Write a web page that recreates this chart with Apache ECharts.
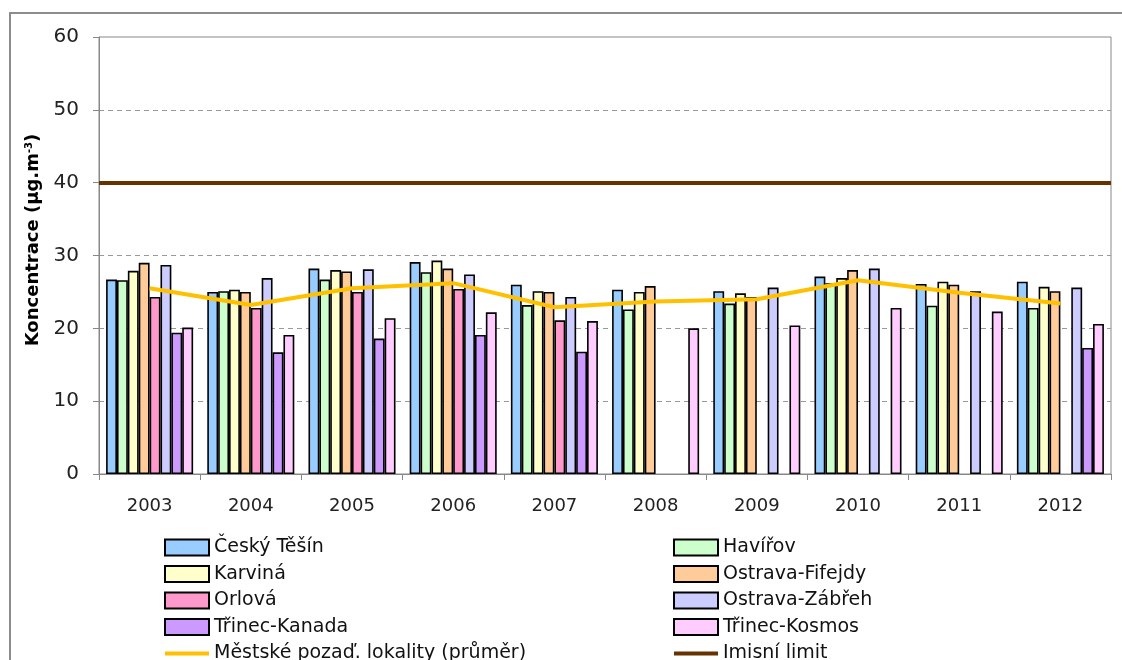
<!DOCTYPE html>
<html>
<head>
<meta charset="utf-8">
<script src="https://cdn.jsdelivr.net/npm/echarts@6/dist/echarts.min.js"></script>
<style>
  html, body { margin: 0; padding: 0; background: #fff; }
  #graf { width: 1122px; height: 660px; }
</style>
</head>
<body>
<div id="graf"></div>
<script>
// roky
var roky = ["2003", "2004", "2005", "2006", "2007", "2008", "2009", "2010", "2011", "2012"];
// hodnoty po lokalitach (null = bez mereni)
var ceskyTesin = [26.7, 25.0, 28.2, 29.1, 26.0, 25.3, 25.1, 27.1, 26.1, 26.4];
var havirov = [26.6, 25.1, 26.7, 27.7, 23.2, 22.6, 23.4, 26.2, 23.1, 22.8];
var karvina = [27.9, 25.3, 28.0, 29.3, 25.1, 25.0, 24.8, 26.9, 26.4, 25.7];
var fifejdy = [29.0, 25.0, 27.8, 28.2, 25.0, 25.8, 24.3, 28.0, 26.0, 25.1];
var orlova = [24.3, 22.8, 25.0, 25.4, 21.1, null, null, null, null, null];
var zabreh = [28.7, 26.9, 28.1, 27.4, 24.3, null, 25.6, 28.2, 25.1, 25.6];
var kanada = [19.4, 16.7, 18.6, 19.1, 16.8, null, null, null, null, 17.3];
var kosmos = [20.1, 19.1, 21.4, 22.2, 21.0, 20.0, 20.4, 22.8, 22.3, 20.6];
// prumer mestskych pozadovych lokalit
var prumer = [25.5, 23.2, 25.5, 26.2, 22.9, 23.7, 24.0, 26.6, 24.9, 23.4];
var limit = 40;
var yTicks = [0, 10, 20, 30, 40, 50, 60];

var font = "'DejaVu Sans', sans-serif";
var LEG_TEXT = { fontFamily: font, fontSize: 19, color: "#111" };

function sloupec(nazev, data, barva) {
  return {
    name: nazev,
    type: "bar",
    data: data,
    barGap: "0%",
    barCategoryGap: "14%",
    itemStyle: { color: barva, borderColor: "#000", borderWidth: 1.6 }
  };
}

// cara v legende bez kolecka
function carova(nazev, barva) {
  return { name: nazev, icon: "inherit", itemStyle: { opacity: 0 }, lineStyle: { color: barva, width: 4, opacity: 1 } };
}

function legenda(x, polozky) {
  return {
    orient: "vertical",
    left: x,
    top: 538,
    height: 160,
    padding: 0,
    icon: "rect",
    itemWidth: 44,
    itemHeight: 16,
    itemGap: 7.5,
    textStyle: LEG_TEXT,
    data: polozky
  };
}

var option = {
  backgroundColor: "#fff",
  animation: false,
  textStyle: { fontFamily: font },
  grid: { left: 99, right: 11, top: 37, bottom: 186, show: true, borderColor: "#888", borderWidth: 1 },
  graphic: [
    {
      type: "rect",
      shape: { x: 10, y: 13, width: 1140, height: 700 },
      style: { fill: "none", stroke: "#8c8c8c", lineWidth: 2 },
      silent: true
    },
    {
      type: "text",
      x: 33,
      y: 240,
      rotation: Math.PI / 2,
      style: {
        text: "{a|Koncentrace (µg.m}{s|-3}{a|)}",
        align: "center",
        verticalAlign: "middle",
        rich: {
          a: { fontFamily: font, fontSize: 18, fontWeight: "bold", fill: "#000" },
          s: { fontFamily: font, fontSize: 10, fontWeight: "bold", fill: "#000", verticalAlign: "top", padding: [0, 0, 8, 0] }
        }
      }
    }
  ],
  legend: [
    legenda(163, ["Český Těšín", "Karviná", "Orlová", "Třinec-Kanada", carova("Městské pozaď. lokality (průměr)", "#FFC000")]),
    legenda(672, ["Havířov", "Ostrava-Fifejdy", "Ostrava-Zábřeh", "Třinec-Kosmos", carova("Imisní limit", "#663300")])
  ],
  xAxis: {
    type: "category",
    data: roky,
    axisLine: { lineStyle: { color: "#888", width: 1 } },
    axisTick: { show: true, alignWithLabel: false, length: 6, lineStyle: { color: "#888" } },
    axisLabel: { fontFamily: font, fontSize: 18, color: "#222", margin: 23 }
  },
  yAxis: {
    type: "value",
    min: yTicks[0],
    max: yTicks[yTicks.length - 1],
    interval: 10,
    axisLine: { show: true, lineStyle: { color: "#888", width: 1 } },
    axisTick: { show: true, length: 6, lineStyle: { color: "#888" } },
    axisLabel: { fontFamily: font, fontSize: 20, color: "#222", margin: 20 },
    splitLine: { show: true, showMinLine: false, showMaxLine: false, lineStyle: { color: "#999", type: [5, 4], width: 1 } }
  },
  series: [
    sloupec("Český Těšín", ceskyTesin, "#99CCFF"),
    sloupec("Havířov", havirov, "#CCFFCC"),
    sloupec("Karviná", karvina, "#FFFFCC"),
    sloupec("Ostrava-Fifejdy", fifejdy, "#FFCC99"),
    sloupec("Orlová", orlova, "#FF99CC"),
    sloupec("Ostrava-Zábřeh", zabreh, "#CCCCFF"),
    sloupec("Třinec-Kanada", kanada, "#CC99FF"),
    sloupec("Třinec-Kosmos", kosmos, "#FFCCFF"),
    {
      name: "Městské pozaď. lokality (průměr)",
      type: "line",
      data: prumer,
      symbol: "circle",
      showSymbol: false,
      z: 5,
      itemStyle: { color: "#FFC000" },
      lineStyle: { color: "#FFC000", width: 4 }
    },
    {
      name: "Imisní limit",
      type: "line",
      data: [],
      symbol: "circle",
      showSymbol: false,
      itemStyle: { color: "#663300" },
      lineStyle: { color: "#663300", width: 4 },
      markLine: {
        silent: true,
        symbol: "none",
        label: { show: false },
        lineStyle: { color: "#663300", width: 4, type: "solid" },
        data: [{ yAxis: limit }]
      }
    }
  ]
};

var chartObj = echarts.init(document.getElementById("graf"));
chartObj.setOption(option);
window.addEventListener("resize", function () {
  chartObj.resize();
});
</script>
</body>
</html>
